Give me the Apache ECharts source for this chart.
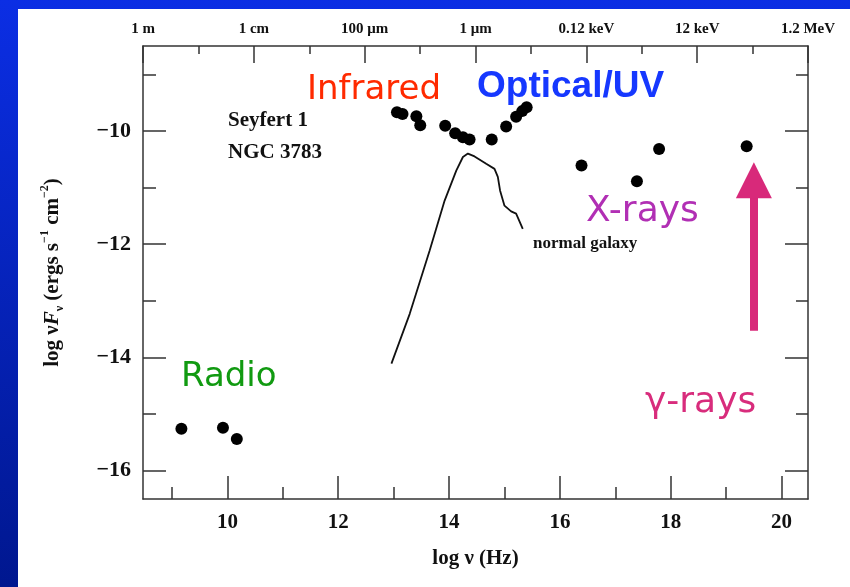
<!DOCTYPE html>
<html>
<head>
<meta charset="utf-8">
<title>Seyfert 1 NGC 3783 spectral energy distribution</title>
<script src="https://cdn.jsdelivr.net/npm/echarts@6/dist/echarts.min.js"></script>
<style>
  html, body { margin: 0; padding: 0; background: #ffffff; }
  #chart { width: 850px; height: 587px; }
</style>
</head>
<body>
<div id="chart"></div>
<script>
// Axis extents: log frequency (Hz) and log nu*F_nu (ergs s^-1 cm^-2)
const X_MIN = 8.477;
const X_MAX = 20.477;
const Y_MIN = -16.5;
const Y_MAX = -8.5;

// Bottom axis ticks
const X_MAJOR = [10, 12, 14, 16, 18, 20];
const X_MINOR = [9, 11, 13, 15, 17, 19];

// Top axis: wavelength / photon energy equivalents
const TOP_MAJOR = [8.477, 10.477, 12.477, 14.477, 16.477, 18.477, 20.477];
const TOP_MINOR = [9.477, 11.477, 13.477, 15.477, 17.477, 19.477];
const TOP_LABELS = ['1 m', '1 cm', '100 \u03bcm', '1 \u03bcm', '0.12 keV', '12 keV', '1.2 MeV'];

// Left / right axis ticks
const Y_MAJOR = [-16, -14, -12, -10];
const Y_MINOR = [-15, -13, -11, -9];

// NGC 3783 photometry: radio, infrared/optical/UV, X-ray, gamma-ray
const SED_LOG_NU = [
  9.17, 9.92, 10.17,
  13.06, 13.16, 13.41, 13.48, 13.93, 14.11, 14.25, 14.37, 14.77, 15.03, 15.21, 15.32, 15.40,
  16.39, 17.39, 17.79,
  19.37
];
const SED_LOG_FLUX = [
  -15.26, -15.24, -15.44,
  -9.67, -9.70, -9.74, -9.90, -9.91, -10.04, -10.11, -10.15, -10.15, -9.92, -9.75, -9.65, -9.58,
  -10.61, -10.89, -10.32,
  -10.27
];

// Template spectrum of a normal galaxy
const GALAXY_LOG_NU = [12.96, 13.29, 13.65, 13.92, 14.13, 14.25, 14.34, 14.46, 14.67, 14.82, 14.88, 14.92, 15.00, 15.12, 15.21, 15.33];
const GALAXY_LOG_FLUX = [-14.11, -13.23, -12.11, -11.23, -10.70, -10.46, -10.40, -10.45, -10.58, -10.67, -10.81, -11.05, -11.32, -11.42, -11.46, -11.73];

// Upward arrow towards the gamma-ray band
const ARROW_LOG_NU = 19.50;
const ARROW_FROM = -13.53;
const ARROW_TO = -10.87;

const serif = '"Liberation Serif", "Times New Roman", serif';
const sans = '"DejaVu Sans", sans-serif';
const axisColor = '#333333';
const ink = '#111111';

const chart = echarts.init(document.getElementById('chart'), null, { renderer: 'canvas' });

const sedPoints = SED_LOG_NU.map((x, i) => [x, SED_LOG_FLUX[i]]);
const galaxyPoints = GALAXY_LOG_NU.map((x, i) => [x, GALAXY_LOG_FLUX[i]]);

function minus(v) {
  return v < 0 ? '\u2212' + Math.abs(v) : String(v);
}

function annotation(text, x, y, font, fill) {
  return {
    type: 'text', x: x, y: y, z: 100, silent: true,
    style: { text: text, font: font, fill: fill, align: 'left', verticalAlign: 'middle' }
  };
}

const lineStyle = { color: axisColor, width: 1.5 };

chart.setOption({
  animation: false,
  backgroundColor: '#ffffff',
  grid: { left: 143, right: 42, top: 46, bottom: 88, containLabel: false },
  graphic: [
    {
      type: 'rect', z: -10, silent: true,
      shape: { x: 0, y: 0, width: 850, height: 587 },
      style: {
        fill: new echarts.graphic.LinearGradient(0, 0, 0, 1, [
          { offset: 0, color: '#0b2ee4' },
          { offset: 1, color: '#00178f' }
        ])
      }
    },
    {
      type: 'rect', z: -9, silent: true,
      shape: { x: 18, y: 9, width: 832, height: 578 },
      style: { fill: '#ffffff' }
    },
    annotation('Infrared', 307, 90, '34px ' + sans, '#ff2a00'),
    annotation('Optical/UV', 477, 87, 'bold 37px "Liberation Sans", Arial, sans-serif', '#1638ff'),
    annotation('Radio', 181, 377, '34px ' + sans, '#119a11'),
    annotation('X-rays', 586, 212, '36px ' + sans, '#b12fb4'),
    annotation('\u03b3-rays', 645, 403, '36px ' + sans, '#d82c7c'),
    annotation('Seyfert 1', 228, 121, 'bold 21px ' + serif, ink),
    annotation('NGC 3783', 228, 153, 'bold 21px ' + serif, ink),
    annotation('normal galaxy', 533, 244, 'bold 17px ' + serif, ink)
  ],
  xAxis: [
    {
      type: 'value', position: 'bottom', min: X_MIN, max: X_MAX,
      axisLine: { show: true, onZero: false, lineStyle: lineStyle },
      axisTick: { show: true, inside: true, length: 23, customValues: X_MAJOR, lineStyle: lineStyle },
      axisLabel: {
        show: true, customValues: X_MAJOR, margin: 13,
        fontFamily: serif, fontWeight: 'bold', fontSize: 21, color: ink
      },
      splitLine: { show: false },
      name: 'log \u03bd (Hz)', nameLocation: 'middle', nameGap: 49,
      nameTextStyle: { fontFamily: serif, fontWeight: 'bold', fontSize: 21, color: ink }
    },
    {
      type: 'value', position: 'bottom', min: X_MIN, max: X_MAX,
      axisLine: { show: false, onZero: false },
      axisTick: { show: true, inside: true, length: 12, customValues: X_MINOR, lineStyle: lineStyle },
      axisLabel: { show: false },
      splitLine: { show: false }
    },
    {
      type: 'value', position: 'top', min: X_MIN, max: X_MAX,
      axisLine: { show: true, onZero: false, lineStyle: lineStyle },
      axisTick: { show: true, inside: true, length: 17, customValues: TOP_MAJOR, lineStyle: lineStyle },
      axisLabel: {
        show: true, customValues: TOP_MAJOR, margin: 9,
        showMinLabel: true, showMaxLabel: true,
        formatter: function (v) {
          const i = TOP_MAJOR.findIndex(t => Math.abs(t - v) < 1e-6);
          return i >= 0 ? TOP_LABELS[i] : '';
        },
        fontFamily: serif, fontWeight: 'bold', fontSize: 15, color: ink
      },
      splitLine: { show: false }
    },
    {
      type: 'value', position: 'top', min: X_MIN, max: X_MAX,
      axisLine: { show: false, onZero: false },
      axisTick: { show: true, inside: true, length: 8, customValues: TOP_MINOR, lineStyle: lineStyle },
      axisLabel: { show: false },
      splitLine: { show: false }
    }
  ],
  yAxis: [
    {
      type: 'value', position: 'left', min: Y_MIN, max: Y_MAX,
      axisLine: { show: true, onZero: false, lineStyle: lineStyle },
      axisTick: { show: true, inside: true, length: 23, customValues: Y_MAJOR, lineStyle: lineStyle },
      axisLabel: {
        show: true, customValues: Y_MAJOR, margin: 12, formatter: minus,
        fontFamily: serif, fontWeight: 'bold', fontSize: 22, color: ink
      },
      splitLine: { show: false },
      name: '{a|log \u03bd}{i|F}{s|\u03bd}{a| (ergs s}{p|\u22121}{a| cm}{p|\u22122}{a|)}',
      nameLocation: 'middle', nameRotate: 90, nameGap: 77,
      nameTextStyle: {
        fontFamily: serif, fontWeight: 'bold', fontSize: 21, color: ink,
        rich: {
          a: { fontFamily: serif, fontWeight: 'bold', fontSize: 21, color: ink, lineHeight: 27 },
          i: { fontFamily: serif, fontWeight: 'bold', fontStyle: 'italic', fontSize: 21, color: ink, lineHeight: 27 },
          s: { fontFamily: serif, fontWeight: 'bold', fontSize: 12, color: ink, lineHeight: 12, verticalAlign: 'bottom' },
          p: { fontFamily: serif, fontWeight: 'bold', fontSize: 12, color: ink, lineHeight: 12, verticalAlign: 'top' }
        }
      }
    },
    {
      type: 'value', position: 'left', min: Y_MIN, max: Y_MAX,
      axisLine: { show: false, onZero: false },
      axisTick: { show: true, inside: true, length: 13, customValues: Y_MINOR, lineStyle: lineStyle },
      axisLabel: { show: false },
      splitLine: { show: false }
    },
    {
      type: 'value', position: 'right', min: Y_MIN, max: Y_MAX,
      axisLine: { show: true, onZero: false, lineStyle: lineStyle },
      axisTick: { show: true, inside: true, length: 23, customValues: Y_MAJOR, lineStyle: lineStyle },
      axisLabel: { show: false },
      splitLine: { show: false }
    },
    {
      type: 'value', position: 'right', min: Y_MIN, max: Y_MAX,
      axisLine: { show: false, onZero: false },
      axisTick: { show: true, inside: true, length: 12, customValues: Y_MINOR, lineStyle: lineStyle },
      axisLabel: { show: false },
      splitLine: { show: false }
    }
  ],
  series: [
    {
      name: 'normal galaxy', type: 'line', xAxisIndex: 0, yAxisIndex: 0,
      data: galaxyPoints, showSymbol: false, symbol: 'none', smooth: false,
      lineStyle: { color: ink, width: 1.8 }, z: 3
    },
    {
      name: 'NGC 3783', type: 'scatter', xAxisIndex: 0, yAxisIndex: 0,
      data: sedPoints, symbol: 'circle', symbolSize: 12,
      itemStyle: { color: '#000000', opacity: 1 }, z: 4
    },
    {
      name: 'gamma-ray arrow', type: 'lines', coordinateSystem: 'cartesian2d',
      xAxisIndex: 0, yAxisIndex: 0,
      data: [{ coords: [[ARROW_LOG_NU, ARROW_FROM], [ARROW_LOG_NU, ARROW_TO]] }],
      symbol: ['none', 'triangle'], symbolSize: [37, 36],
      lineStyle: { color: '#d8297a', width: 8, opacity: 1, curveness: 0 },
      itemStyle: { color: '#d8297a' },
      effect: { show: false }, z: 5
    }
  ]
});
</script>
</body>
</html>
